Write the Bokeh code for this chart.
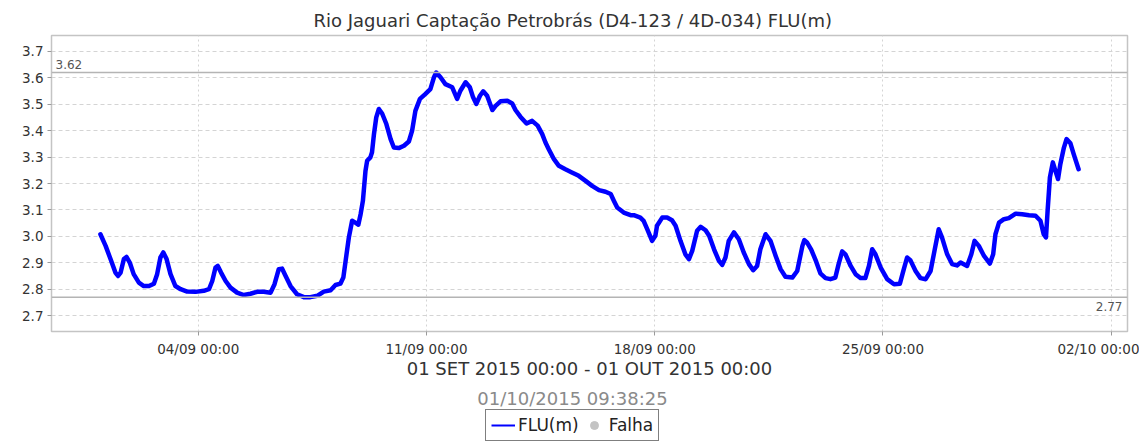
from datetime import datetime, timedelta

from bokeh.embed import file_html
from bokeh.layouts import column
from bokeh.models import (DatetimeTickFormatter, FixedTicker, Label, Legend,
                          LegendItem, PrintfTickFormatter, Range1d, Span)
from bokeh.plotting import figure
from bokeh.resources import INLINE

# ---- data -----------------------------------------------------------------
inicio = datetime(2015, 9, 1)

# days elapsed since 01/09/2015 00:00
dias = [
    0.00, 0.16, 0.31, 0.46, 0.54, 0.62, 0.72, 0.80, 0.90, 1.02,
    1.18, 1.33, 1.49, 1.64, 1.74, 1.84, 1.93, 2.03, 2.15, 2.30,
    2.46, 2.66, 2.92, 3.17, 3.33, 3.43, 3.53, 3.60, 3.70, 3.84,
    3.99, 4.19, 4.40, 4.60, 4.81, 5.01, 5.22, 5.34, 5.47, 5.57,
    5.68, 5.83, 6.03, 6.24, 6.44, 6.65, 6.85, 7.06, 7.21, 7.36,
    7.45, 7.52, 7.62, 7.72, 7.82, 7.91, 7.98, 8.05, 8.13, 8.18,
    8.28, 8.33, 8.39, 8.46, 8.54, 8.64, 8.77, 8.90, 9.00, 9.15,
    9.31, 9.46, 9.56, 9.66, 9.80, 9.97, 10.12, 10.23, 10.30, 10.43,
    10.58, 10.79, 10.94, 11.04, 11.20, 11.33, 11.43, 11.53, 11.64, 11.74,
    11.86, 12.02, 12.12, 12.27, 12.48, 12.63, 12.73, 12.88, 13.07, 13.24,
    13.41, 13.55, 13.65, 13.75, 13.91, 14.06, 14.26, 14.46, 14.67, 14.88,
    15.08, 15.29, 15.49, 15.65, 15.75, 15.85, 16.05, 16.26, 16.36, 16.56,
    16.66, 16.77, 16.92, 17.02, 17.07, 17.23, 17.38, 17.53, 17.64, 17.79,
    17.94, 18.05, 18.15, 18.30, 18.41, 18.56, 18.67, 18.82, 18.97, 19.07,
    19.17, 19.27, 19.43, 19.58, 19.73, 19.89, 20.02, 20.14, 20.24, 20.40,
    20.55, 20.71, 20.86, 21.01, 21.22, 21.37, 21.53, 21.59, 21.67, 21.80,
    21.95, 22.08, 22.24, 22.39, 22.54, 22.64, 22.75, 22.85, 23.01, 23.16,
    23.31, 23.46, 23.57, 23.67, 23.77, 23.93, 24.13, 24.34, 24.52, 24.64,
    24.74, 24.84, 25.00, 25.15, 25.31, 25.46, 25.58, 25.71, 25.81, 25.97,
    26.12, 26.27, 26.38, 26.58, 26.71, 26.81, 26.94, 27.10, 27.28, 27.38,
    27.45, 27.56, 27.71, 27.86, 28.07, 28.27, 28.48, 28.68, 28.83, 28.93,
    29.00, 29.05, 29.12, 29.21, 29.29, 29.37, 29.44, 29.55, 29.63, 29.75,
    29.85, 30.00,
]

# FLU(m) level
flu = [
    3.008, 2.964, 2.914, 2.863, 2.850, 2.863, 2.914, 2.922, 2.901, 2.857,
    2.825, 2.812, 2.812, 2.821, 2.857, 2.920, 2.939, 2.914, 2.857, 2.812,
    2.800, 2.791, 2.790, 2.794, 2.800, 2.831, 2.882, 2.888, 2.863, 2.831,
    2.806, 2.787, 2.778, 2.783, 2.790, 2.790, 2.787, 2.819, 2.876, 2.878,
    2.850, 2.812, 2.781, 2.770, 2.770, 2.775, 2.791, 2.796, 2.816, 2.821,
    2.844, 2.907, 2.996, 3.059, 3.052, 3.044, 3.084, 3.134, 3.248, 3.286,
    3.299, 3.318, 3.387, 3.450, 3.482, 3.465, 3.425, 3.368, 3.336, 3.334,
    3.343, 3.359, 3.400, 3.475, 3.520, 3.539, 3.557, 3.602, 3.620, 3.602,
    3.576, 3.564, 3.520, 3.551, 3.583, 3.564, 3.526, 3.501, 3.532, 3.549,
    3.532, 3.478, 3.494, 3.511, 3.513, 3.503, 3.478, 3.453, 3.427, 3.437,
    3.419, 3.387, 3.355, 3.330, 3.292, 3.267, 3.254, 3.242, 3.229, 3.210,
    3.191, 3.175, 3.169, 3.160, 3.134, 3.109, 3.090, 3.080, 3.080, 3.071,
    3.059, 3.027, 2.983, 3.002, 3.040, 3.071, 3.071, 3.061, 3.040, 2.983,
    2.932, 2.914, 2.945, 3.021, 3.036, 3.023, 3.002, 2.951, 2.907, 2.892,
    2.920, 2.983, 3.015, 2.989, 2.939, 2.895, 2.872, 2.888, 2.951, 3.008,
    2.983, 2.926, 2.876, 2.847, 2.844, 2.869, 2.964, 2.986, 2.977, 2.950,
    2.905, 2.860, 2.842, 2.838, 2.844, 2.895, 2.943, 2.932, 2.888, 2.857,
    2.842, 2.842, 2.888, 2.951, 2.932, 2.882, 2.838, 2.819, 2.821, 2.876,
    2.920, 2.910, 2.869, 2.842, 2.838, 2.869, 2.945, 3.027, 2.996, 2.932,
    2.895, 2.890, 2.901, 2.888, 2.932, 2.983, 2.964, 2.926, 2.897, 2.932,
    3.008, 3.052, 3.065, 3.069, 3.086, 3.084, 3.080, 3.078, 3.059, 3.008,
    2.996, 3.097, 3.223, 3.280, 3.248, 3.217, 3.273, 3.336, 3.368, 3.352,
    3.311, 3.254,
]

# failure readings in the period (none recorded)
falha_dias = [float("nan")]
falha_flu = [float("nan")]

tick_dias = [3, 10, 17, 24, 31]
y_ticks = [2.7, 2.8, 2.9, 3.0, 3.1, 3.2, 3.3, 3.4, 3.5, 3.6, 3.7]

titulo = "Rio Jaguari Captação Petrobrás (D4-123 / 4D-034) FLU(m)"
periodo = "01 SET 2015 00:00 - 01 OUT 2015 00:00"
atualizado = "01/10/2015 09:38:25"
serie_nome = "FLU(m)"
falha_nome = "Falha"

# ---- helpers ----------------------------------------------------------------
EPOCH = datetime(1970, 1, 1)


def ms(d):
    """Milliseconds since epoch for a day offset from the start date."""
    return ((inicio + timedelta(days=d)) - EPOCH).total_seconds() * 1000.0


FONT = "DejaVu Sans"
W, H = 1139, 442
H_FOOT = 58                              # strip holding stamp + legend
H_MAIN = H - H_FOOT
FL, FR, FT, FB = 51, 1127, 35, 331       # plot frame edges in canvas pixels
X0, X1 = -1.5, 31.5                      # x range, days from start
Y0, Y1 = 2.64, 3.76

# ---- main chart -------------------------------------------------------------
p = figure(
    width=W, height=H_MAIN,
    x_axis_type="datetime",
    x_range=Range1d(ms(X0), ms(X1)),
    y_range=Range1d(Y0, Y1),
    output_backend="svg",
    toolbar_location=None,
    min_border_left=FL, min_border_right=W - FR,
    min_border_top=FT, min_border_bottom=H_MAIN - FB,
    background_fill_color="white",
    border_fill_color="white",
)
p.outline_line_color = "#c4c4c4"
p.outline_line_width = 1.5

# title, shifted so it sits centred on the whole canvas
p.title.text = titulo
p.title.align = "left"
p.title.offset = 262
p.title.text_font = FONT
p.title.text_font_size = "18px"
p.title.text_font_style = "normal"
p.title.text_color = "#333333"
p.title.standoff = 10

# axes
fmt = "%d/%m %H:%M"
p.xaxis.ticker = FixedTicker(ticks=[ms(d) for d in tick_dias])
p.xaxis.formatter = DatetimeTickFormatter(
    milliseconds=fmt, seconds=fmt, minsec=fmt, minutes=fmt, hourmin=fmt,
    hours=fmt, days=fmt, months=fmt, years=fmt)
p.yaxis.ticker = FixedTicker(ticks=y_ticks)
p.yaxis.formatter = PrintfTickFormatter(format="%.1f")

for ax in (p.xaxis[0], p.yaxis[0]):
    ax.axis_line_color = None
    ax.major_tick_line_color = "#9a9a9a"
    ax.major_tick_out = 4
    ax.major_tick_in = 0
    ax.minor_tick_line_color = None
    ax.major_label_text_font = FONT
    ax.major_label_text_font_size = "13.5px"
    ax.major_label_text_color = "#333333"

p.yaxis.major_label_standoff = 4
p.xaxis.major_label_standoff = 5
p.xaxis.axis_label = periodo
p.xaxis.axis_label_text_font = FONT
p.xaxis.axis_label_text_font_size = "18px"
p.xaxis.axis_label_text_font_style = "normal"
p.xaxis.axis_label_text_color = "#333333"
p.xaxis.axis_label_standoff = -2

# grid
p.ygrid.grid_line_color = "#d4d4d4"
p.ygrid.grid_line_dash = "4 3"
p.ygrid.grid_line_width = 1
p.xgrid.grid_line_color = "#d4d4d4"
p.xgrid.grid_line_dash = "2 3"
p.xgrid.grid_line_width = 1

# max / min reference lines
vmax, vmin = max(flu), min(flu)
for v in (vmax, vmin):
    p.add_layout(Span(location=v, dimension="width",
                      line_color="#b4b4b4", line_width=1.5))
p.add_layout(Label(x=ms(X0), y=vmax, x_offset=4, y_offset=4,
                   text=f"{vmax:.2f}", text_font=FONT,
                   text_font_size="12px", text_color="#555555",
                   text_align="left", text_baseline="bottom"))
p.add_layout(Label(x=ms(X1), y=vmin, x_offset=-5, y_offset=-5,
                   text=f"{vmin:.2f}", text_font=FONT,
                   text_font_size="12px", text_color="#555555",
                   text_align="right", text_baseline="top"))

# series
tempos = [ms(d) for d in dias]
p.line(tempos, flu, line_color="#0000ff", line_width=4.5, line_join="round",
       line_cap="round")

# ---- footer strip: update stamp and legend ---------------------------------
# same side borders as the chart, so its frame lines up with the one above;
# its x range is simply canvas pixels
f = figure(
    width=W, height=H_FOOT,
    x_range=Range1d(FL, FR), y_range=Range1d(0, H_FOOT),
    x_axis_location=None, y_axis_location=None,
    output_backend="svg", toolbar_location=None,
    min_border_left=FL, min_border_right=W - FR,
    min_border_top=0, min_border_bottom=0,
    border_fill_color="white", background_fill_color="white",
)
f.grid.visible = False
f.outline_line_color = None

f.add_layout(Label(x=572, y=H_FOOT - 14, text=atualizado, text_font=FONT,
                   text_font_size="18px", text_color="#8a8a8a",
                   text_align="center", text_baseline="middle"))

leg_line = f.line(falha_dias, falha_flu, line_color="#0000ff", line_width=2)
leg_falha = f.scatter(falha_dias, falha_flu, marker="circle", size=9,
                      fill_color="#c4c4c4", line_color="#c4c4c4")
legend = Legend(
    items=[LegendItem(label=serie_nome, renderers=[leg_line]),
           LegendItem(label=falha_nome, renderers=[leg_falha])],
    orientation="horizontal",
    location=(485 - FL, 1),
    border_line_color="black", border_line_width=1.5,
    background_fill_color="white", background_fill_alpha=1.0,
    padding=5, spacing=3, margin=0,
    glyph_width=24, glyph_height=20, label_height=20, label_standoff=3,
    label_text_font=FONT, label_text_font_size="17px",
    label_text_color="#222222",
)
f.add_layout(legend, "center")

open("out.html", "w").write(file_html(column(p, f, spacing=0), INLINE))
